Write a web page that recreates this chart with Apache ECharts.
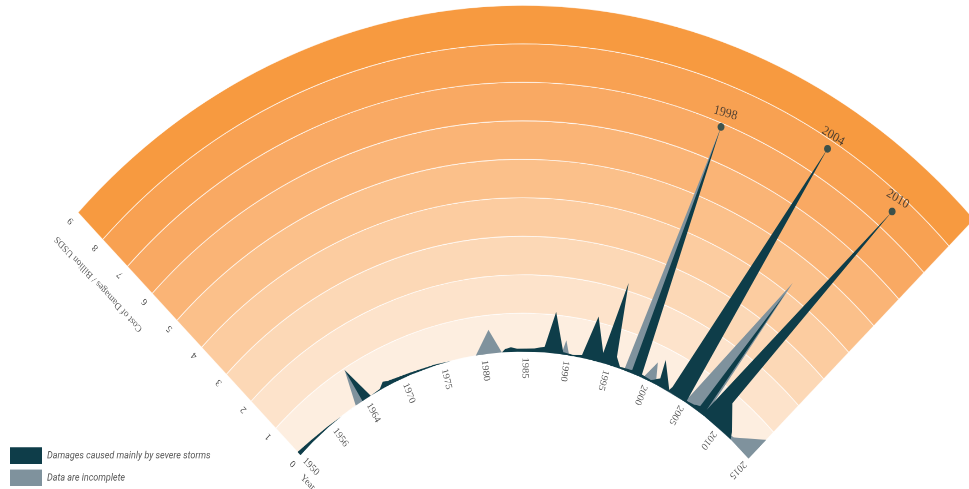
<!DOCTYPE html>
<html><head><meta charset="utf-8">
<script src="https://cdn.jsdelivr.net/npm/echarts@6/dist/echarts.min.js"></script>
<style>
html,body{margin:0;padding:0;background:#fff;overflow:hidden;}
#wrap{width:969px;height:489px;overflow:hidden;position:relative;}
#chart{width:969px;height:440.54px;transform:scaleY(1.11);transform-origin:0 0;}
</style></head><body>
<div id="wrap"><div id="chart"></div></div>
<script>
// ---------------- data ----------------
const tickYears = ['1950','1956','1964','1970','1975','1980','1985','1990','1995','2000','2005','2010','2015'];
const radiusTicks = [0,1,2,3,4,5,6,7,8,9];
const axisTitle = 'Cost of Damages / Billion USDS';
const yearTitle = 'Year';
const seriesNames = ['Damages caused mainly by severe storms', 'Data are incomplete'];
// positions along the year axis (0 = "1950" tick ... 12 = "2015" tick), values in billion USD
const stormPos = [0.0,0.4,0.9,1.3,1.90,1.88,2.13,2.39,2.52,2.62,2.75,3.2,3.8,4.2,5.44,5.52,5.66,5.81,6.22,6.46,6.66,6.91,7.17,7.36,7.57,7.84,8.01,8.17,8.3,8.60,8.70,8.85,9.1,9.28,9.23,9.58,9.62,10.08,10.06,10.25,10.39,10.62,10.56,11.19,10.95,11.32,11.4,12];
const stormVal = [0.12,0.07,0.03,0,0,0.96,0,0.03,0.16,0.12,0.1,0.06,0.03,0,0,0.08,0.12,0.08,0.09,0.15,1.08,0.06,0.03,0.07,1.15,0.26,2.21,0.27,0.05,0.08,6.9,0.08,0.05,0.2,0.70,0.05,0.16,7.76,0.05,0.08,0.15,3.95,0.17,7.53,0.75,0.17,0,0];
const incompletePos = [1.71,1.88,1.95,4.81,5.17,5.44,6.87,6.95,7.06,8.0,8.12,8.3,8.42,8.70,8.74,8.89,9.09,9.24,10.04,10.63,10.60,11.43,12];
const incompleteVal = [0,0.96,0,0,0.62,0,0,0.38,0,0,0.35,0,0.05,6.9,0,0,0.55,0,0.05,4.30,0,0.1,0.71];
const peakLabels = ['1998','2004','2010'];
const peakPos = [8.70,10.08,11.19];
const peakVal = [6.9,7.76,7.53];

// ---------------- styles ----------------
const DARK = '#0e3d49';
const GREY = '#7f929d';
const bandColors = ['#fdeee0','#fde3cb','#fcd8b6','#fccca0','#fbc08a','#fab476','#f9a963','#f8a152','#f79a40'];
const START = 135.5, END = 43.7;
const CENTER = [523, 628.8];
const R_IN = 312, R_OUT = 624;
const UNIT = (R_OUT - R_IN) / 9;
const peakRotate = [-15, -30, -30];
const SERIF = '"Liberation Serif","DejaVu Serif",serif';
const angleOf = p => START - (START - END) * p / 12;

const chart = echarts.init(document.getElementById('chart'), null, {devicePixelRatio: 2});

const bandSeries = radiusTicks.slice(1).map((t, i) => ({
  type: 'bar', coordinateSystem: 'polar', polarIndex: 1, stack: 'bands', silent: true, z: 1,
  data: [t - radiusTicks[i]], barWidth: '100%', barCategoryGap: '0%',
  itemStyle: {color: bandColors[i], borderColor: 'rgba(255,255,255,0.75)', borderWidth: 0.8}
}));

const option = {
  animation: false,
  polar: [
    { center: CENTER, radius: [R_IN - UNIT, R_OUT] },
    { center: CENTER, radius: [R_IN, R_OUT] }
  ],
  angleAxis: [
    { polarIndex: 0, type: 'value', min: 0, max: 12, startAngle: START, endAngle: END, clockwise: true,
      show: false, axisLine: {show: false}, axisTick: {show: false}, axisLabel: {show: false}, splitLine: {show: false} },
    { polarIndex: 1, type: 'category', data: ['bands'], startAngle: START, endAngle: END, clockwise: true,
      axisLine: {show: false}, axisTick: {show: false}, axisLabel: {show: false}, splitLine: {show: false} }
  ],
  radiusAxis: [
    { polarIndex: 0, type: 'value', min: -1, max: 9, show: false,
      axisLine: {show: false}, axisTick: {show: false}, axisLabel: {show: false}, splitLine: {show: false} },
    { polarIndex: 1, type: 'value', min: 0, max: 9, interval: 1,
      axisLine: {show: false}, axisTick: {show: false}, splitLine: {show: false}, splitArea: {show: false},
      axisLabel: { rotate: START, margin: 6, color: '#444', fontFamily: SERIF, fontSize: 9,
        formatter: v => String(radiusTicks[v]) } }
  ],
  legend: {
    left: 10, top: 403, padding: 0, orient: 'vertical', itemWidth: 32, itemHeight: 15, itemGap: 5,
    icon: 'rect', selectedMode: false, data: seriesNames,
    textStyle: {fontStyle: 'italic', fontFamily: 'Roboto', fontSize: 9, color: '#555'}
  },
  series: bandSeries.concat([
    {
      type: 'line', name: seriesNames[1], coordinateSystem: 'polar', polarIndex: 0, z: 2, silent: true,
      data: incompletePos.map((p, i) => [incompleteVal[i], p]),
      symbol: 'none', showSymbol: false, lineStyle: {width: 0}, color: GREY,
      itemStyle: {color: GREY}, areaStyle: {color: GREY, opacity: 1}
    },
    {
      type: 'line', name: seriesNames[0], coordinateSystem: 'polar', polarIndex: 0, z: 3, silent: true,
      data: stormPos.map((p, i) => [stormVal[i], p]),
      symbol: 'none', showSymbol: false, lineStyle: {width: 0}, color: DARK,
      itemStyle: {color: DARK}, areaStyle: {color: DARK, opacity: 1}
    },
    {
      type: 'scatter', coordinateSystem: 'polar', polarIndex: 0, z: 5, silent: true,
      symbol: 'circle', symbolSize: 7, itemStyle: {color: DARK},
      data: peakLabels.map((t, i) => ({value: [peakVal[i], peakPos[i]], label: {rotate: peakRotate[i]}})),
      label: { show: true, position: 'top', distance: 4, offset: [3, 0],
        formatter: p => peakLabels[p.dataIndex], color: '#2b2b2b', fontFamily: SERIF, fontSize: 12 }
    },
    {
      type: 'scatter', coordinateSystem: 'polar', polarIndex: 0, z: 5, silent: true,
      symbolSize: 1, itemStyle: {color: 'rgba(0,0,0,0)'},
      data: tickYears.map((t, i) => ({value: [-0.15, i], label: {rotate: angleOf(i) - 180}})),
      label: { show: true, position: 'inside', align: 'left', verticalAlign: 'middle',
        formatter: p => tickYears[p.dataIndex], color: '#333', fontFamily: SERIF, fontSize: 9.5 }
    },
    {
      type: 'scatter', coordinateSystem: 'polar', polarIndex: 0, z: 5, silent: true,
      symbolSize: 1, itemStyle: {color: 'rgba(0,0,0,0)'},
      data: [
        {value: [-0.4, -0.32], label: {rotate: angleOf(-0.32) - 180, align: 'left'}, name: yearTitle},
        {value: [7.3, -0.42], label: {rotate: START, align: 'center'}, name: axisTitle}
      ],
      label: { show: true, position: 'inside', verticalAlign: 'middle',
        formatter: p => p.name, color: '#333', fontFamily: SERIF, fontSize: 9 }
    }
  ])
};
chart.setOption(option);
</script>
</body></html>
